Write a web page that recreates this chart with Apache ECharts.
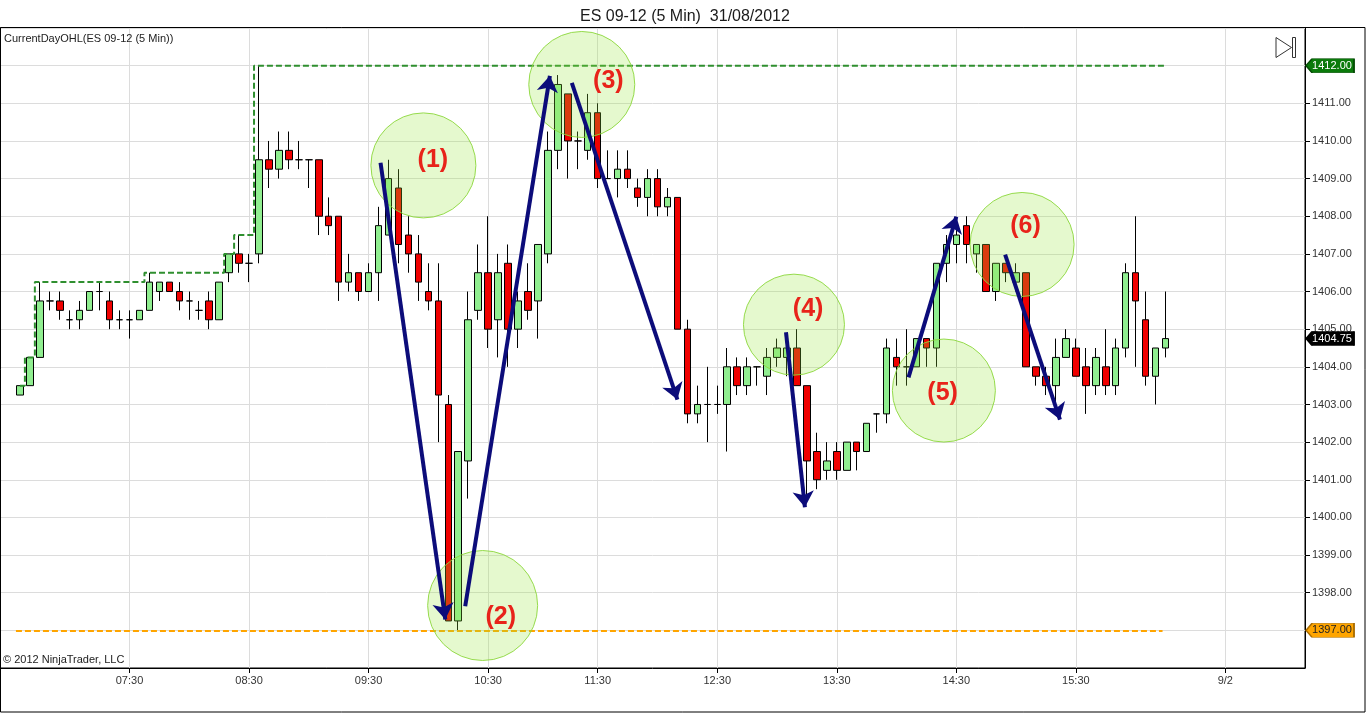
<!DOCTYPE html>
<html>
<head>
<meta charset="utf-8">
<title>ES 09-12 (5 Min) 31/08/2012</title>
<script src="https://cdn.jsdelivr.net/npm/echarts@6/dist/echarts.min.js"></script>
<style>
html, body { margin: 0; padding: 0; background: #fff; }
#container { width: 1366px; height: 713px; }
</style>
</head>
<body>
<div id="container"></div>
<script>
// bars, 5 min (open / close / low / high)
var opens  = [1403.25,1403.5,1404.25,1405.75,1405.75,1405.25,1405.25,1405.5,1406,1405.75,
              1405.25,1405.25,1405.25,1405.5,1406,1406.25,1406,1405.75,1405.5,1405.75,
              1405.25,1406.5,1407,1406.75,1407,1409.5,1409.25,1409.75,1409.5,1409.5,
              1409.5,1408,1408,1406.25,1406.5,1406,1406.5,1407.5,1408.75,1407.5,
              1407,1406,1405.75,1403,1397.25,1401.5,1405.5,1406.5,1405.25,1406.75,
              1405,1406,1405.75,1407,1409.75,1411.25,1410,1409.75,1410.75,1409,
              1409,1409.25,1408.75,1408.5,1409,1408.25,1408.5,1405,1402.75,1403,
              1403,1403,1404,1403.5,1404,1403.75,1404.25,1404.25,1404.5,1403.5,
              1401.75,1401.25,1401.75,1401.25,1402,1401.75,1402.75,1402.75,1404.25,1404,
              1404,1404.75,1404.5,1406.75,1407.25,1407.75,1407,1407.25,1406,1406.75,
              1406.25,1406.5,1404,1403.75,1403.5,1404.25,1404.5,1404,1403.5,1404,
              1403.5,1404.5,1406.5,1405.25,1403.75,1404.5];
var closes = [1403.5,1404.25,1405.75,1405.75,1405.5,1405.25,1405.5,1406,1406,1405.25,
              1405.25,1405.25,1405.5,1406.25,1406.25,1406,1405.75,1405.75,1405.5,1405.25,
              1406.25,1407,1406.75,1406.75,1409.5,1409.25,1409.75,1409.5,1409.5,1409.5,
              1408,1407.75,1406.25,1406.5,1406,1406.5,1407.75,1409,1407.25,1407,
              1406.25,1405.75,1403.25,1397.25,1401.75,1405.25,1406.5,1405,1406.5,1405,
              1405.75,1405.5,1407.25,1409.75,1411.5,1410,1410,1410.75,1409,1409,
              1409.25,1409,1408.5,1409,1408.25,1408.5,1405,1402.75,1403,1403,
              1403,1404,1403.5,1404,1404,1404.25,1404.5,1404.5,1403.5,1401.5,
              1401,1401.5,1401.25,1402,1401.75,1402.5,1402.75,1404.5,1404,1404,
              1404.75,1404.5,1406.75,1407.25,1407.5,1407.25,1407.25,1406,1406.75,1406.5,
              1406.5,1404,1403.75,1403.5,1404.25,1404.75,1403.75,1403.5,1404.25,1403.5,
              1404.5,1406.5,1405.75,1403.75,1404.5,1404.75];
var lows   = [1403.25,1403.5,1404.25,1405.5,1405.25,1405,1405,1405.5,1405.5,1405,
              1405,1404.75,1405.25,1405.5,1405.75,1406,1405.5,1405.25,1405.25,1405,
              1405.25,1406.25,1406.5,1406.25,1406.75,1408.75,1409,1409.25,1409.25,1408.75,
              1407.5,1407.5,1405.75,1406,1405.75,1406,1405.75,1407.5,1406.75,1406.5,
              1405.75,1405.5,1402,1397.25,1397,1400.5,1405.25,1404.5,1404.25,1404,
              1404.5,1405.25,1404.75,1406.75,1409.25,1409,1409.25,1409.5,1408.75,1409,
              1408.5,1408.75,1408.25,1408,1408,1408,1405,1402.5,1402.5,1402,
              1402.75,1401.75,1403.25,1403.25,1403.5,1403.25,1404,1403.75,1403.5,1400.5,
              1400.75,1401,1401,1401.25,1401.25,1401.75,1402.25,1402.5,1403.5,1403.5,
              1404,1404,1404,1406.25,1406.75,1406.75,1406.5,1406,1405.75,1406.25,
              1406,1404,1403.5,1403.25,1403,1404.25,1403.75,1402.75,1403.25,1403.25,
              1403.25,1404.25,1404,1403.5,1403,1404.25];
var highs  = [1403.5,1404.25,1406.25,1406,1406,1405.5,1405.75,1406,1406.25,1406,
              1405.5,1405.5,1405.5,1406.5,1406.25,1406.25,1406.25,1406,1405.75,1406,
              1406.25,1407,1407.5,1407,1412,1410,1410.25,1410.25,1410,1409.5,
              1409.5,1408.5,1408,1407,1406.5,1406.75,1408.25,1409.5,1409.25,1408,
              1407.5,1406.75,1406.75,1403.25,1401.75,1406,1407.25,1408,1407,1407.25,
              1406,1406.75,1407.25,1410.25,1411.75,1411.25,1410.25,1411.25,1411,1409.75,
              1409.75,1409.75,1409,1409.25,1409.25,1408.75,1408.5,1405.25,1403.5,1404,
              1403.5,1404.5,1404.25,1404.25,1404,1404.5,1404.75,1404.5,1405,1403.5,
              1402.25,1402,1402,1402,1402,1402.5,1402.75,1404.75,1404.75,1405,
              1404.75,1404.75,1406.75,1407.5,1407.75,1408,1407.25,1407.25,1406.75,1406.75,
              1406.75,1406.5,1404,1404,1404.75,1405,1404.75,1404.5,1404.5,1405,
              1404.75,1406.75,1408,1406,1404.5,1406];

// time labels and the bar they sit on
var timeLabels = ['07:30','08:30','09:30','10:30','11:30','12:30','13:30','14:30','15:30','9/2'];
var timeBars   = [11, 23, 35, 47, 58, 70, 82, 94, 106, 121];

// drawn notes: circles (bar, price, diameter), numbers, arrows
var circleBar   = [40.5, 46.45, 56.4, 77.7, 92.75, 100.6];
var circlePrice = [1409.35, 1397.66, 1411.5, 1405.12, 1403.37, 1407.25];
var circleSize  = [105, 110, 106, 101, 103, 104];
var noteText  = ['(1)','(2)','(3)','(4)','(5)','(6)'];
var noteBar   = [41.45, 48.27, 59.07, 79.12, 92.62, 100.95];
var notePrice = [1409.49, 1397.35, 1411.58, 1405.53, 1403.31, 1407.73];
var arrowFrom = [[36.2,1409.42],[44.7,1397.64],[55.4,1411.54],[76.9,1404.92],[89.2,1403.72],[98.9,1406.98]];
var arrowTo   = [[42.7,1397.29],[53.2,1411.73],[66.0,1403.13],[78.8,1400.27],[94.0,1407.99],[104.4,1402.6]];

var padBars = 2;
var slotCount = 132;

var labelAt = {};
for (var k = 0; k < timeBars.length; k++) labelAt[timeBars[k]] = timeLabels[k];

var categories = [];
for (var j = 0; j < slotCount; j++) categories.push(String(j - padBars));

var candleData = opens.map(function (o, i) {
	return [i + padBars, o, closes[i], lows[i], highs[i]];
});

// CurrentDayOHL: running high
var dayHigh = [];
var runHigh = -Infinity;
highs.forEach(function (h, i) {
	runHigh = Math.max(runHigh, h);
	dayHigh.push([i + padBars, runHigh]);
});
var lowOfDay = Math.min.apply(null, lows);
var highOfDay = Math.max.apply(null, highs);
var lastPrice = closes[closes.length - 1];

function isTimeTick(idx, val) {
	return labelAt[Number(val)] !== undefined;
}

var font = "'Liberation Sans', Arial, sans-serif";
var tagPath = 'path://M0,7 L6,0 L48,0 L48,14 L6,14 Z';

var dom = document.getElementById('container');
var myChart = echarts.init(dom);
var option = {
	animation: false,
	backgroundColor: '#fff',
	textStyle: { fontFamily: font },
	title: {
		text: 'ES 09-12 (5 Min)  31/08/2012',
		left: 575,
		top: 4,
		textStyle: { fontSize: 16, fontWeight: 'normal', color: '#1a1a1a', fontFamily: font }
	},
	grid: {
		left: 0, top: 28, width: 1305, height: 640,
		show: true, borderColor: '#000', borderWidth: 1, backgroundColor: '#fff'
	},
	xAxis: [{
		type: 'category',
		data: categories,
		boundaryGap: false,
		axisLine: { onZero: false, lineStyle: { color: '#000', width: 1 } },
		axisTick: { show: true, interval: isTimeTick, length: 5, lineStyle: { color: '#000' } },
		axisLabel: {
			interval: isTimeTick,
			formatter: function (v) { return labelAt[Number(v)] || ''; },
			fontSize: 11, color: '#333', margin: 7, fontFamily: font
		},
		splitLine: { show: true, interval: isTimeTick, lineStyle: { color: '#dcdcdc', width: 1 } }
	}, {
		type: 'value',
		min: -padBars,
		max: slotCount - padBars - 1,
		show: false,
		axisLine: { onZero: false }
	}],
	yAxis: {
		type: 'value',
		position: 'right',
		min: 1396, max: 1413, interval: 1,
		axisLine: { show: true, onZero: false, lineStyle: { color: '#000', width: 1 } },
		axisTick: { show: true, length: 5, lineStyle: { color: '#000' } },
		axisLabel: {
			formatter: function (v) { return v.toFixed(2); },
			fontSize: 11, color: '#333', margin: 7, fontFamily: font,
			showMinLabel: false, showMaxLabel: false
		},
		splitLine: { show: true, lineStyle: { color: '#dcdcdc', width: 1 } }
	},
	series: [{
		type: 'candlestick',
		data: candleData,
		encode: { x: 0, y: [1, 2, 3, 4] },
		barWidth: 7,
		z: 2,
		itemStyle: {
			color: '#90ee90', color0: '#f00000',
			borderColor: '#000', borderColor0: '#000', borderColorDoji: '#000',
			borderWidth: 1
		}
	}, {
		type: 'line',
		data: dayHigh,
		step: 'middle',
		symbol: 'none',
		z: 3,
		silent: true,
		lineStyle: { color: '#2f8f2f', width: 2, type: [6, 3] }
	}, {
		type: 'lines',
		coordinateSystem: 'cartesian2d',
		xAxisIndex: 1,
		z: 3,
		silent: true,
		lineStyle: { color: '#ffa500', width: 2, type: [6, 3], opacity: 1 },
		data: [{ coords: [[-0.4, lowOfDay], [opens.length - 1.3, lowOfDay]] }]
	}, {
		type: 'scatter',
		xAxisIndex: 1,
		z: 4,
		silent: true,
		symbolSize: function (v, p) { return circleSize[p.dataIndex]; },
		itemStyle: {
			color: 'rgba(150,230,60,0.25)',
			borderColor: 'rgba(140,215,60,0.9)',
			borderWidth: 1,
			opacity: 1
		},
		data: circleBar.map(function (b, i) { return [b, circlePrice[i]]; })
	}, {
		type: 'lines',
		coordinateSystem: 'cartesian2d',
		xAxisIndex: 1,
		z: 5,
		silent: true,
		symbol: ['none', 'arrow'],
		symbolSize: 16,
		lineStyle: { color: '#0c0c7a', width: 4, opacity: 1 },
		data: arrowFrom.map(function (a, i) { return { coords: [a, arrowTo[i]] }; })
	}, {
		type: 'scatter',
		xAxisIndex: 1,
		z: 6,
		silent: true,
		symbolSize: 1,
		itemStyle: { color: 'rgba(0,0,0,0)' },
		label: {
			show: true,
			position: 'inside',
			formatter: function (p) { return noteText[p.dataIndex]; },
			color: '#e8231a', fontSize: 25, fontWeight: 'bold', fontFamily: font,
			textBorderWidth: 0, textShadowBlur: 0, opacity: 1
		},
		data: noteBar.map(function (b, i) { return [b, notePrice[i]]; })
	}, {
		type: 'scatter',
		xAxisIndex: 1,
		z: 7,
		clip: false,
		silent: true,
		data: [],
		markPoint: {
			symbol: tagPath,
			symbolSize: [48, 14],
			symbolOffset: [25, 0],
			silent: true,
			label: {
				show: true, position: 'inside', offset: [2, 0],
				fontSize: 11, fontFamily: font,
				formatter: function (p) { return p.value.toFixed(2); }
			},
			data: [{
				coord: [slotCount - padBars - 1, highOfDay], value: highOfDay,
				itemStyle: { color: '#0a7a0a', borderColor: '#064d06', borderWidth: 1 },
				label: { color: '#fff' }
			}, {
				coord: [slotCount - padBars - 1, lastPrice], value: lastPrice,
				itemStyle: { color: '#000', borderColor: '#000', borderWidth: 1 },
				label: { color: '#fff' }
			}, {
				coord: [slotCount - padBars - 1, lowOfDay], value: lowOfDay,
				itemStyle: { color: '#ffa500', borderColor: '#a86c00', borderWidth: 1 },
				label: { color: '#222' }
			}]
		}
	}],
	graphic: [{
		type: 'rect',
		silent: true,
		shape: { x: 0.5, y: 27.5, width: 1364.5, height: 684.5 },
		style: { fill: 'none', stroke: '#000', lineWidth: 1 },
		z: 100
	}, {
		type: 'text',
		left: 4, top: 33,
		silent: true,
		style: { text: 'CurrentDayOHL(ES 09-12 (5 Min))', fontSize: 11, fill: '#222', fontFamily: font },
		z: 100
	}, {
		type: 'text',
		left: 3, top: 654,
		silent: true,
		style: { text: '\u00a9 2012 NinjaTrader, LLC', fontSize: 11, fill: '#222', fontFamily: font },
		z: 100
	}, {
		type: 'polygon',
		silent: true,
		shape: { points: [[1276, 37.5], [1291.5, 47.5], [1276, 57.5]] },
		style: { fill: '#fff', stroke: '#333', lineWidth: 1 },
		z: 100
	}, {
		type: 'rect',
		silent: true,
		shape: { x: 1292.5, y: 37.5, width: 3, height: 20 },
		style: { fill: '#fff', stroke: '#333', lineWidth: 1 },
		z: 100
	}]
};
myChart.setOption(option, true);
</script>
</body>
</html>
